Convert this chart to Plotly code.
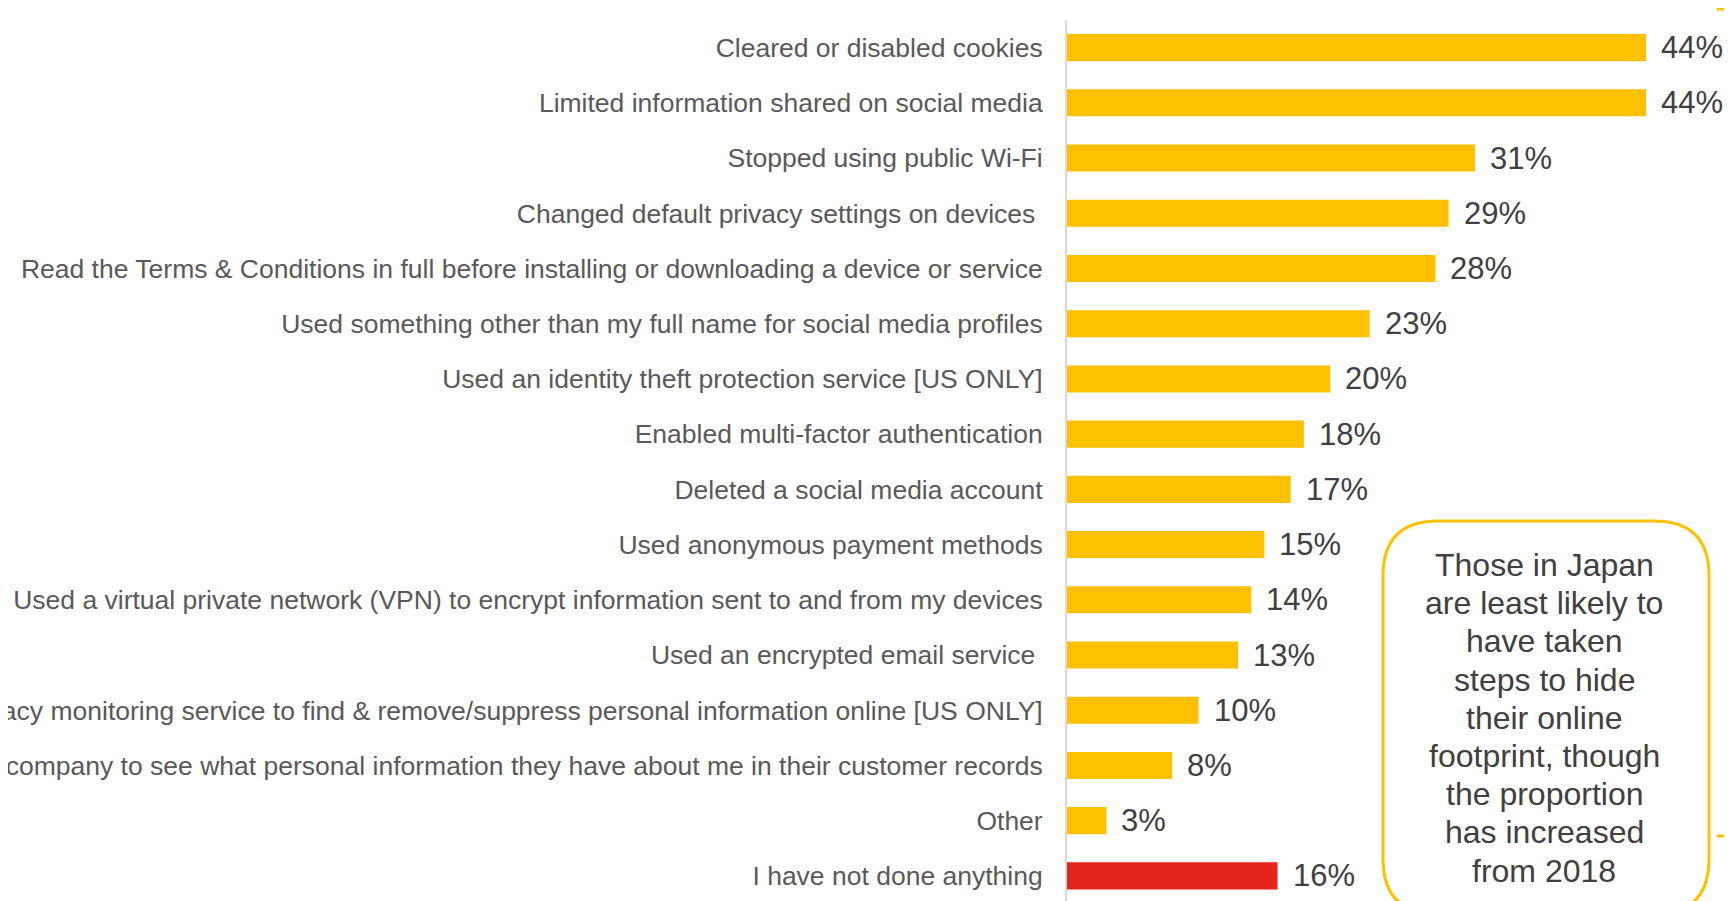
import plotly.graph_objects as go

# Steps taken to protect online privacy
acoes = [
    "Cleared or disabled cookies",
    "Limited information shared on social media",
    "Stopped using public Wi-Fi",
    "Changed default privacy settings on devices ",
    "Read the Terms & Conditions in full before installing or downloading a device or service",
    "Used something other than my full name for social media profiles",
    "Used an identity theft protection service [US ONLY]",
    "Enabled multi-factor authentication",
    "Deleted a social media account",
    "Used anonymous payment methods",
    "Used a virtual private network (VPN) to encrypt information sent to and from my devices",
    "Used an encrypted email service ",
    "Used a privacy monitoring service to find & remove/suppress personal information online [US ONLY]",
    "Asked a company to see what personal information they have about me in their customer records",
    "Other",
    "I have not done anything",
]
percentuais = [44, 44, 31, 29, 28, 23, 20, 18, 17, 15, 14, 13, 10, 8, 3, 16]
cores = ["#FFC000"] * 15 + ["#E3231C"]

nota_linhas = [
    "Those in Japan", "are least likely to", "have taken", "steps to hide",
    "their online", "footprint, though", "the proportion", "has increased", "from 2018",
]

FONTE = "Liberation Sans, Arial"
W, H = 1732, 901
L, T = 1059, 12   # a pagina tem 8px de margem no body

fig = go.Figure(go.Bar(
    x=percentuais,
    y=acoes,
    orientation="h",
    marker=dict(color=cores, line=dict(width=0)),
    hoverinfo="skip",
))

#  rotulos de valor
for v, a in zip(percentuais, acoes):
    fig.add_annotation(
        x=v, y=a, text=f"{v}%", showarrow=False,
        xanchor="left", xshift=13,
        font=dict(family=FONTE, size=31, color="#404040"),
    )

#  caixa com texto (cantos arredondados)
pw, ph = W - L, H - T
def px(x): return (x - L) / pw
def py(y): return (H - y) / ph
x0, x1, y0, y1, r = 1375, 1701, 513, 906, 55
rx, ry = r / pw, r / ph
caminho = (
    f"M {px(x0)+rx} {py(y0)} L {px(x1)-rx} {py(y0)} "
    f"Q {px(x1)} {py(y0)} {px(x1)} {py(y0)-ry} "
    f"L {px(x1)} {py(y1)+ry} Q {px(x1)} {py(y1)} {px(x1)-rx} {py(y1)} "
    f"L {px(x0)+rx} {py(y1)} Q {px(x0)} {py(y1)} {px(x0)} {py(y1)+ry} "
    f"L {px(x0)} {py(y0)-ry} Q {px(x0)} {py(y0)} {px(x0)+rx} {py(y0)} Z"
)
fig.add_shape(type="path", path=caminho, xref="paper", yref="paper",
              line=dict(color="#FFC000", width=3), fillcolor="rgba(0,0,0,0)")
for i, linha in enumerate(nota_linhas):
    fig.add_annotation(
        x=px(1536), y=py(557 + i * 38.2), xref="paper", yref="paper", text=linha,
        showarrow=False, xanchor="center", yanchor="middle",
        font=dict(family=FONTE, size=32, color="#404040"),
    )

#  tracinhos do colchete na borda direita
for yy in (1, 828):
    fig.add_shape(type="line", xref="paper", yref="paper",
                  x0=px(1709), x1=px(1726), y0=py(yy), y1=py(yy),
                  line=dict(color="#FFC000", width=3))

fig.update_layout(
    width=W, height=H,
    margin=dict(l=L, r=0, t=T, b=0, pad=0),
    paper_bgcolor="white", plot_bgcolor="white",
    bargap=0.51,
    showlegend=False,
)
fig.update_xaxes(range=[0, pw / 13.16], visible=False, fixedrange=True)
fig.update_yaxes(
    range=[15.6, -0.5], automargin=False,
    showline=True, linecolor="#D9D9D9", linewidth=2,
    showgrid=False, zeroline=False, ticks="",
    ticklabelstandoff=17,
    tickfont=dict(family=FONTE, size=26.5, color="#595959"),
)

fig.write_html("out.html")
